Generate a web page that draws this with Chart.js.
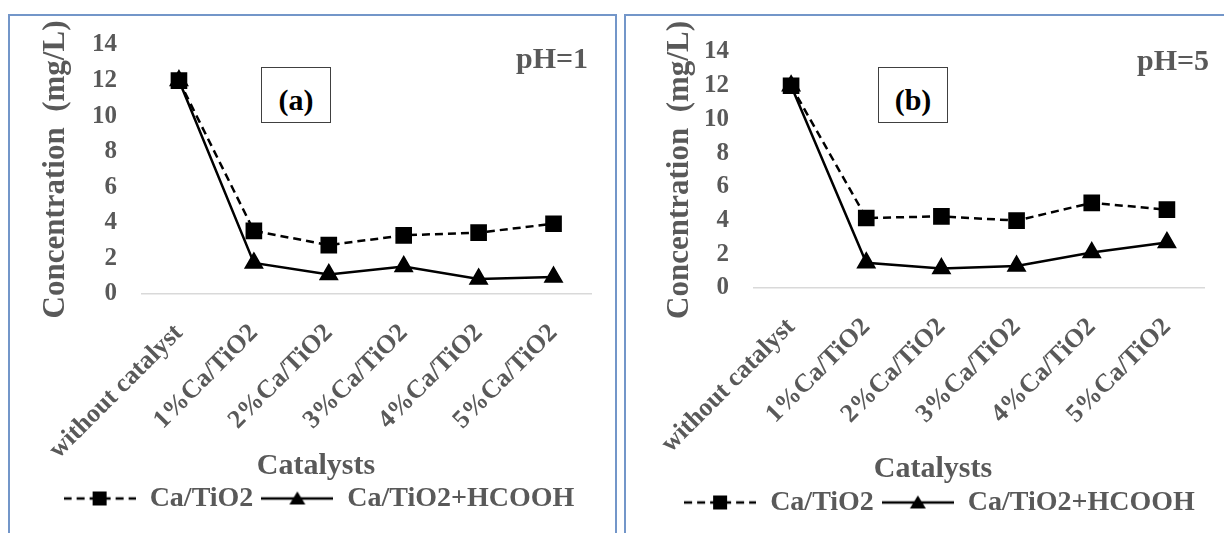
<!DOCTYPE html>
<html>
<head>
<meta charset="utf-8">
<script src="https://cdn.jsdelivr.net/npm/chart.js@4.4.1/dist/chart.umd.min.js"></script>
<style>
  body { margin: 0; width: 1224px; height: 533px; overflow: hidden; background: #fff; position: relative; font-family: "Liberation Serif", serif; }
  .panel { position: absolute; top: 14px; width: 605px; height: 540px; border: 2px solid #7396c9; }
  #panelA { left: 8px; }
  #panelB { left: 624px; }
  .panel canvas { position: absolute; left: 0; top: 0; }
  .tag { position: absolute; top: 51px; width: 70px; height: 56px; box-sizing: border-box; border: 1px solid #404040; background: #fff; color: #000; font-weight: bold; font-size: 30px; line-height: 44px; padding-top: 10px; text-align: center; }
  .ph { position: absolute; color: #595959; font-weight: bold; font-size: 30px; line-height: 1; white-space: nowrap; }
  .xtitle { position: absolute; width: 200px; color: #595959; font-weight: bold; font-size: 30px; line-height: 1; text-align: center; }
</style>
</head>
<body>
<div class="panel" id="panelA">
  <canvas id="chartA" width="605" height="519"></canvas>
  <div class="tag" style="left:251px">(a)</div>
  <div class="ph" style="left:506px; top:27px">pH=1</div>
  <div class="xtitle" style="left:206px; top:433px">Catalysts</div>
</div>
<div class="panel" id="panelB">
  <canvas id="chartB" width="605" height="519"></canvas>
  <div class="tag" style="left:252px">(b)</div>
  <div class="ph" style="left:511px; top:29px">pH=5</div>
  <div class="xtitle" style="left:207px; top:436px">Catalysts</div>
</div>
<script>
const categories = ["without catalyst", "1%Ca/TiO2", "2%Ca/TiO2", "3%Ca/TiO2", "4%Ca/TiO2", "5%Ca/TiO2"];
const seriesNames = ["Ca/TiO2", "Ca/TiO2+HCOOH"];

// pH = 1
const caTiO2_pH1 = [12, 3.55, 2.75, 3.3, 3.45, 3.95];
const hcooh_pH1 = [12, 1.75, 1.1, 1.55, 0.85, 0.95];

// pH = 5
const caTiO2_pH5 = [12, 4.15, 4.25, 4.0, 5.05, 4.65];
const hcooh_pH5 = [12, 1.5, 1.15, 1.3, 2.1, 2.7];

const yTicks = [0, 2, 4, 6, 8, 10, 12, 14];

const textGray = "#595959";
const FAMILY = "Liberation Serif";

// small pictures for the legend: line + marker
function legendIcon(dashed, marker) {
  const c = document.createElement("canvas");
  c.width = 72;
  c.height = 18;
  const g = c.getContext("2d");
  g.strokeStyle = "#000";
  g.fillStyle = "#000";
  g.lineWidth = 2.5;
  if (dashed) g.setLineDash([8, 5]);
  g.beginPath();
  g.moveTo(0, 9);
  g.lineTo(72, 9);
  g.stroke();
  g.setLineDash([]);
  if (marker === "rect") {
    g.fillRect(29, 2, 14, 14);
  } else {
    g.beginPath();
    g.moveTo(36, 2);
    g.lineTo(44, 15);
    g.lineTo(28, 15);
    g.closePath();
    g.fill();
  }
  return c;
}
const icons = [legendIcon(true, "rect"), legendIcon(false, "triangle")];

// keep the chart area exactly where layout.padding puts it
function noExtraPadding(s) {
  s.paddingLeft = 0;
  s.paddingRight = 0;
  s.paddingTop = 0;
  s.paddingBottom = 0;
}

function buildChart(id, dataDashed, dataSolid, lay) {
  return new Chart(document.getElementById(id), {
    type: "line",
    data: {
      labels: categories,
      datasets: [
        {
          label: seriesNames[0],
          data: dataDashed,
          borderColor: "#000",
          backgroundColor: "#000",
          borderWidth: 2.5,
          borderDash: [8, 5],
          pointStyle: "rect",
          pointRadius: 10,
          pointHoverRadius: 10,
          pointBackgroundColor: "#000",
          pointBorderColor: "#000",
          tension: 0,
        },
        {
          label: seriesNames[1],
          data: dataSolid,
          borderColor: "#000",
          backgroundColor: "#000",
          borderWidth: 2.5,
          pointStyle: "triangle",
          pointRadius: 9,
          pointHoverRadius: 9,
          pointBackgroundColor: "#000",
          pointBorderColor: "#000",
          tension: 0,
        },
      ],
    },
    options: {
      responsive: false,
      animation: false,
      layout: { padding: lay.padding },
      plugins: {
        tooltip: { enabled: false },
        legend: {
          position: "bottom",
          labels: {
            usePointStyle: true,
            pointStyleWidth: 72,
            padding: 8,
            color: textGray,
            font: { family: FAMILY, size: 28, weight: "bold" },
            generateLabels: (chart) =>
              Chart.defaults.plugins.legend.labels.generateLabels(chart).map((item, i) => {
                item.pointStyle = icons[i];
                return item;
              }),
          },
        },
      },
      scales: {
        x: {
          offset: true,
          grid: { display: false, drawTicks: false },
          border: { color: "#d9d9d9", width: 1.5 },
          ticks: {
            autoSkip: false,
            minRotation: 45,
            maxRotation: 45,
            padding: 24,
            color: textGray,
            font: { family: FAMILY, size: 26, weight: "bold" },
          },
          afterFit(s) {
            s.height = lay.xHeight;
            noExtraPadding(s);
          },
        },
        y: {
          min: 0,
          max: 14,
          afterBuildTicks(s) { s.ticks = yTicks.map((v) => ({ value: v })); },
          grid: { display: false, drawTicks: false },
          border: { display: false },
          ticks: {
            autoSkip: false,
            padding: 24.5,
            color: textGray,
            font: { family: FAMILY, size: 25, weight: "bold" },
          },
          title: {
            display: true,
            text: "Concentration  (mg/L)",
            color: textGray,
            padding: { top: lay.titlePad, bottom: 0 },
            font: { family: FAMILY, size: 31, weight: "bold" },
          },
          afterFit(s) {
            s.width = lay.yWidth;
            noExtraPadding(s);
          },
        },
      },
    },
  });
}

buildChart("chartA", caTiO2_pH1, hcooh_pH1, {
  padding: { left: 37, right: 24, top: 29, bottom: 12.5 },
  xHeight: 182.5,
  yWidth: 94.5,
  titlePad: -9.9,
});
buildChart("chartB", caTiO2_pH5, hcooh_pH5, {
  padding: { left: 48.5, right: 26.5, top: 36, bottom: 8.5 },
  xHeight: 192.5,
  yWidth: 79,
  titlePad: -13.1,
});
</script>
</body>
</html>
